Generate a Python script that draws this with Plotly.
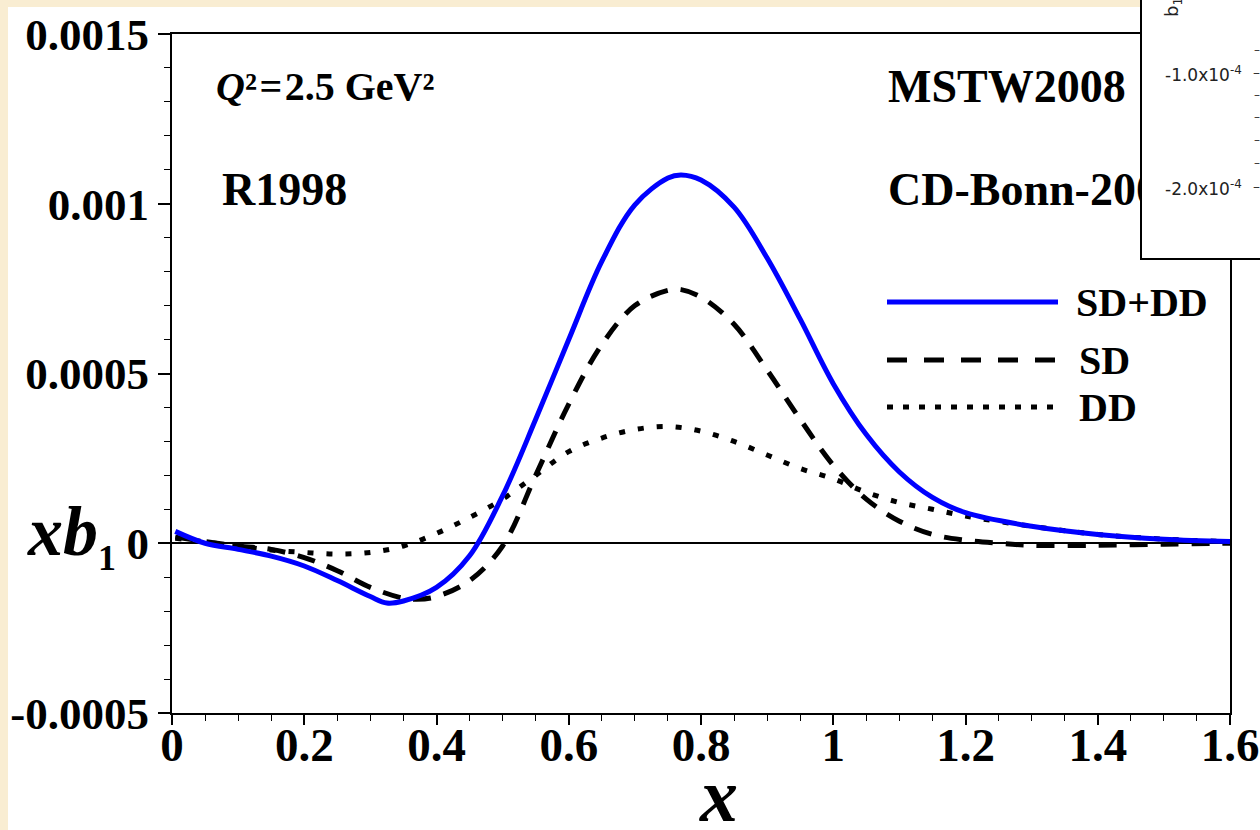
import plotly.graph_objects as go

# x grid for the three structure-function curves
x_sum = [0.005, 0.05, 0.1, 0.15, 0.2, 0.25, 0.3, 0.325, 0.35, 0.4, 0.45, 0.5, 0.55, 0.6, 0.65, 0.7,
         0.75, 0.77, 0.8, 0.85, 0.9, 0.95, 1.0, 1.05, 1.1, 1.15, 1.2, 1.3, 1.4, 1.5, 1.6]
y_sum = [3.5e-5, 0.0, -1.8e-5, -3.8e-5, -6.7e-5, -1.10e-4, -1.57e-4, -1.76e-4, -1.70e-4, -1.30e-4,
         -3.7e-5, 1.4e-4, 3.65e-4, 6.0e-4, 8.3e-4, 9.97e-4, 1.076e-3, 1.085e-3, 1.07e-3, 9.9e-4,
         8.4e-4, 6.6e-4, 4.7e-4, 3.2e-4, 2.1e-4, 1.35e-4, 9.0e-5, 5.0e-5, 2.6e-5, 1.2e-5, 5e-6]

x_sd = [0.005, 0.1, 0.15, 0.2, 0.25, 0.3, 0.35, 0.37, 0.4, 0.45, 0.5, 0.55, 0.6, 0.65, 0.7, 0.75,
        0.77, 0.8, 0.85, 0.9, 0.95, 1.0, 1.05, 1.1, 1.15, 1.2, 1.25, 1.3, 1.4, 1.5, 1.6]
y_sd = [1.8e-5, -8e-6, -1.8e-5, -4.2e-5, -8.1e-5, -1.30e-4, -1.62e-4, -1.65e-4, -1.57e-4, -1.10e-4,
        -8e-6, 2.0e-4, 4.1e-4, 5.85e-4, 7.0e-4, 7.45e-4, 7.47e-4, 7.25e-4, 6.45e-4, 5.1e-4, 3.65e-4,
        2.3e-4, 1.3e-4, 6.5e-5, 2.6e-5, 9e-6, 0.0, -6e-6, -6e-6, -3e-6, 0.0]

x_dd = [0.005, 0.1, 0.15, 0.2, 0.25, 0.3, 0.35, 0.4, 0.45, 0.5, 0.55, 0.6, 0.65, 0.7, 0.75, 0.8,
        0.85, 0.9, 0.95, 1.0, 1.05, 1.1, 1.15, 1.2, 1.3, 1.4, 1.5, 1.6]
y_dd = [1.5e-5, -8e-6, -2.0e-5, -2.7e-5, -3.2e-5, -2.7e-5, -8e-6, 2.9e-5, 7.6e-5, 1.3e-4, 2.0e-4,
        2.7e-4, 3.1e-4, 3.35e-4, 3.44e-4, 3.3e-4, 3.0e-4, 2.6e-4, 2.2e-4, 1.9e-4, 1.5e-4, 1.2e-4,
        1.0e-4, 8e-5, 5e-5, 2.6e-5, 1.2e-5, 5e-6]

x_ticks = [0, 0.2, 0.4, 0.6, 0.8, 1.0, 1.2, 1.4, 1.6]
x_ticktext = ["0", "0.2", "0.4", "0.6", "0.8", "1", "1.2", "1.4", "1.6"]
y_ticks = [-0.0005, 0, 0.0005, 0.001, 0.0015]
y_ticktext = ["-0.0005", "0", "0.0005", "0.001", "0.0015"]

legend_names = ["SD+DD", "SD", "DD"]

W, H = 1260, 830
L, R, T, B = 172, 30, 34, 117
PW, PH = W - L - R, H - T - B


def px(xp):
    return (xp - L) / PW


def py(yp):
    return (H - B - yp) / PH


SERIF = "Liberation Serif, Times New Roman, serif"
INSET_FONT = "DejaVu Sans, Arial, sans-serif"
BEIGE = "#f9edd2"

fig = go.Figure()
fig.add_trace(go.Scatter(x=x_sd, y=y_sd, mode="lines", name=legend_names[1],
                         line=dict(color="black", width=5, dash="18px,13px", shape="spline")))
fig.add_trace(go.Scatter(x=x_dd, y=y_dd, mode="lines", name=legend_names[2],
                         line=dict(color="black", width=5, dash="6px,13px", shape="spline")))
fig.add_trace(go.Scatter(x=x_sum, y=y_sum, mode="lines", name=legend_names[0],
                         line=dict(color="#0000ff", width=5, shape="spline")))

shapes = []
# white page area over the beige background
shapes.append(dict(type="rect", xref="paper", yref="paper", layer="below",
                   x0=px(8), x1=px(W + 5), y0=py(H + 5), y1=py(7),
                   fillcolor="white", line=dict(width=0)))

# hand-drawn legend samples
leg_y = [302, 360, 407]
shapes.append(dict(type="line", xref="paper", yref="paper", x0=px(887), x1=px(1058),
                   y0=py(leg_y[0]), y1=py(leg_y[0]), line=dict(color="#0000ff", width=5)))
shapes.append(dict(type="line", xref="paper", yref="paper", x0=px(887), x1=px(1058),
                   y0=py(leg_y[1]), y1=py(leg_y[1]),
                   line=dict(color="black", width=5, dash="20px,17px")))
shapes.append(dict(type="line", xref="paper", yref="paper", x0=px(887), x1=px(1058),
                   y0=py(leg_y[2]), y1=py(leg_y[2]),
                   line=dict(color="black", width=5, dash="6px,10px")))

ann = []


def text(xp, yp, s, size, xanchor="left", yanchor="middle", family=SERIF, color="black", angle=0):
    ann.append(dict(xref="paper", yref="paper", x=px(xp), y=py(yp), text=s, showarrow=False,
                    xanchor=xanchor, yanchor=yanchor, textangle=angle,
                    font=dict(family=family, size=size, color=color)))


text(214, 87, "<b><i>Q</i>²<span style='font-size:10px'> </span>=<span style='font-size:10px'> </span>2.5 GeV²</b>", 40)
text(220, 190, "<b>R1998</b>", 46)
text(886, 87, "<b>MSTW2008</b>", 46)
text(886, 190, "<b>CD-Bonn-2000</b>", 46)
text(1074, 302, "<b>" + legend_names[0] + "</b>", 40)
text(1077, 360, "<b>" + legend_names[1] + "</b>", 40)
text(1077, 407, "<b>" + legend_names[2] + "</b>", 40)
text(25, 535, "<b><i>xb</i><sub><span style='font-size:36px'>1</span></sub></b>", 70, xanchor="left")
text(718, 795, "<b><i>x</i></b>", 76, xanchor="center")

# inset panel in the upper-right corner: a white box drawn over the main frame
ann.append(dict(xref="paper", yref="paper", x=px(1140), y=py(-20), xanchor="left", yanchor="top",
                text=" ", showarrow=False, width=160, height=276, bgcolor="white",
                bordercolor="black", borderwidth=2, borderpad=0,
                font=dict(family=INSET_FONT, size=10)))
for yy in [50, 95, 117, 140, 163]:
    text(1262, yy, "–", 12, xanchor="right", family=INSET_FONT, color="#333333")
for yy in [72, 186]:
    text(1262, yy, "–", 14, xanchor="right", family=INSET_FONT, color="#333333")
text(1244, 74, "-1.0x10<sup>-4</sup>", 17, xanchor="right", family=INSET_FONT, color="#222222")
text(1244, 188, "-2.0x10<sup>-4</sup>", 17, xanchor="right", family=INSET_FONT, color="#222222")
text(1173, 4, "b<sub>1</sub>(", 18, xanchor="center", family=INSET_FONT, color="#222222", angle=-90)

axis_common = dict(showline=True, linecolor="black", linewidth=2, mirror=True,
                   ticks="outside", tickcolor="black", tickwidth=1.5,
                   showgrid=False, automargin=False)

fig.update_layout(
    width=W, height=H,
    margin=dict(l=L, r=R, t=T, b=B, pad=0, autoexpand=False),
    paper_bgcolor=BEIGE, plot_bgcolor="white",
    showlegend=False,
    shapes=shapes, annotations=ann,
    xaxis=dict(range=[0, 1.6], tickvals=x_ticks, ticktext=["<b>%s</b>" % t for t in x_ticktext],
               ticklen=10, ticklabelstandoff=-20, tickfont=dict(family=SERIF, size=47, color="black"),
               minor=dict(dtick=0.05, ticks="outside", ticklen=6, tickcolor="black", tickwidth=1.2),
               zeroline=False, **axis_common),
    yaxis=dict(range=[-0.0005, 0.0015], tickvals=y_ticks,
               ticktext=["<b>%s</b>" % t for t in y_ticktext],
               ticklen=12, tickfont=dict(family=SERIF, size=45, color="black"),
               minor=dict(dtick=0.0001, ticks="outside", ticklen=6, tickcolor="black", tickwidth=1.2),
               zeroline=True, zerolinecolor="black", zerolinewidth=1.5, **axis_common),
)

fig.write_html("out.html")
